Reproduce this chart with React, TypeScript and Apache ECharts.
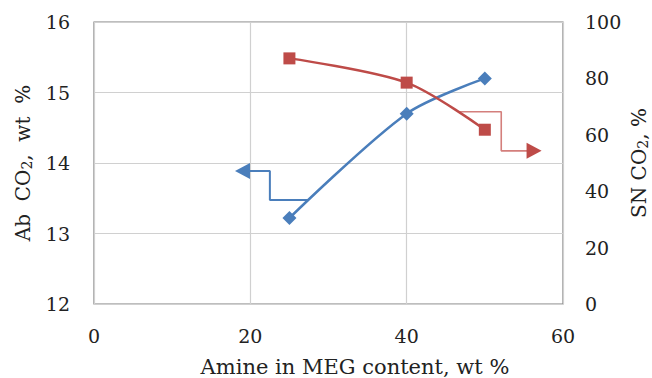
import React, { useEffect, useRef } from "react";
import * as echarts from "echarts";

const xValues = [25, 40, 50];
const abCO2 = [13.22, 14.7, 15.2];
const snCO2 = [87.1, 78.5, 61.8];
// annotation arrows in data coordinates
const blueArrow = [[27.4, 13.475], [22.5, 13.475], [22.5, 13.887], [19.0, 13.887]];
const redArrow = [[46.8, 68.2], [52.1, 68.2], [52.1, 54.3], [56.3, 54.3]];

const BLUE = "#4a7ebb";
const RED = "#be4b48";
const FONT = "DejaVu Serif";

export default function App() {
  const ref = useRef<HTMLDivElement>(null);
  useEffect(() => {
    const chart = echarts.init(ref.current!, undefined, { renderer: "svg" });
    const arrowData = (pts: number[][], rot: number) =>
      pts.map((p, i) =>
        i === pts.length - 1
          ? { value: p, symbol: "triangle", symbolSize: [16, 15], symbolRotate: rot }
          : { value: p, symbol: "none" }
      );
    const sub = { fontFamily: FONT, fontSize: 14, color: "#222", padding: [8, 0, 0, 0] };
    chart.setOption({
      animation: false,
      grid: { left: 94, right: 89, top: 22, bottom: 74, show: true, borderColor: "#7f7f7f", borderWidth: 1.2, outerBoundsMode: "none", containLabel: false },
      xAxis: {
        type: "value", min: 0, max: 60, interval: 20,
        name: "Amine in MEG content, wt %", nameLocation: "middle", nameGap: 52, nameMoveOverlap: false,
        nameTextStyle: { fontFamily: FONT, fontSize: 21, color: "#222", padding: [0, 0, 0, 53] },
        axisLine: { show: false }, axisTick: { show: false },
        axisLabel: { fontFamily: FONT, fontSize: 19, color: "#222", margin: 22 },
        splitLine: { lineStyle: { color: "#d0d0d0", width: 1.2 } },
      },
      yAxis: [
        {
          type: "value", min: 12, max: 16, interval: 1,
          name: "{a|Ab  CO}{s|2}{a|,  wt  %}", nameLocation: "middle", nameGap: 60, nameRotate: 90, nameMoveOverlap: false,
          nameTextStyle: {
            fontFamily: FONT, fontSize: 20, color: "#222",
            rich: { a: { fontFamily: FONT, fontSize: 20, color: "#222" }, s: sub },
          },
          axisLine: { show: false }, axisTick: { show: false },
          axisLabel: { fontFamily: FONT, fontSize: 19, color: "#222", margin: 24 },
          splitLine: { lineStyle: { color: "#d0d0d0", width: 1.2 } },
        },
        {
          type: "value", min: 0, max: 100, interval: 20, position: "right",
          name: "{a|SN CO}{s|2}{a|, %}", nameLocation: "middle", nameGap: 65, nameRotate: 90, nameMoveOverlap: false,
          nameTextStyle: {
            fontFamily: FONT, fontSize: 20, color: "#222",
            rich: { a: { fontFamily: FONT, fontSize: 20, color: "#222" }, s: sub },
          },
          axisLine: { show: false }, axisTick: { show: false },
          axisLabel: { fontFamily: FONT, fontSize: 19, color: "#222", margin: 22 },
          splitLine: { show: false },
        },
      ],
      series: [
        {
          type: "line", yAxisIndex: 0, data: xValues.map((x, i) => [x, abCO2[i]]),
          smooth: 0.3, symbol: "diamond", symbolSize: 14,
          lineStyle: { color: BLUE, width: 2.5 }, itemStyle: { color: BLUE },
        },
        {
          type: "line", yAxisIndex: 1, data: xValues.map((x, i) => [x, snCO2[i]]),
          smooth: 0.3, symbol: "rect", symbolSize: 12,
          lineStyle: { color: RED, width: 2.5 }, itemStyle: { color: RED },
        },
        {
          type: "line", yAxisIndex: 0, data: arrowData(blueArrow, 90),
          lineStyle: { color: BLUE, width: 2 }, itemStyle: { color: BLUE }, z: 1,
        },
        {
          type: "line", yAxisIndex: 1, data: arrowData(redArrow, -90),
          lineStyle: { color: "#d47f7c", width: 1.6 }, itemStyle: { color: RED }, z: 1,
        },
      ],
    });
    return () => chart.dispose();
  }, []);
  return <div ref={ref} style={{ width: 652, height: 378, position: "absolute", left: 0, top: 0 }} />;
}
